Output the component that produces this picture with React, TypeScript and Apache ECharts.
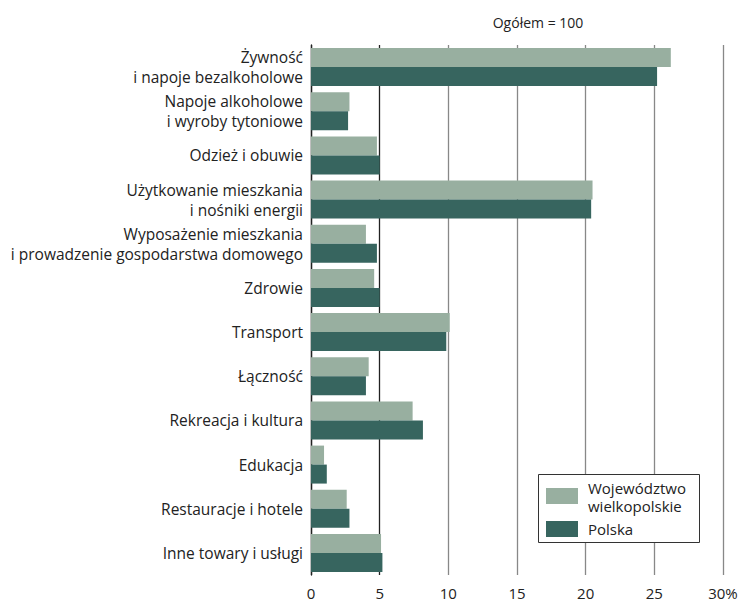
import React, { useEffect, useRef } from "react";
import * as echarts from "echarts";

const categories = [
  "Żywność\ni napoje bezalkoholowe",
  "Napoje alkoholowe\ni wyroby tytoniowe",
  "Odzież i obuwie",
  "Użytkowanie mieszkania\ni nośniki energii",
  "Wyposażenie mieszkania\ni prowadzenie gospodarstwa domowego",
  "Zdrowie",
  "Transport",
  "Łączność",
  "Rekreacja i kultura",
  "Edukacja",
  "Restauracje i hotele",
  "Inne towary i usługi",
];
const wielkopolskie = [26.2, 2.8, 4.8, 20.5, 4.0, 4.6, 10.1, 4.2, 7.4, 0.95, 2.6, 5.1];
const polska = [25.2, 2.7, 5.0, 20.4, 4.8, 5.0, 9.85, 4.0, 8.15, 1.15, 2.8, 5.2];
const seriesNames = ["Województwo wielkopolskie", "Polska"];
const legendLines = [["Województwo", "wielkopolskie"], ["Polska"]];
const titleText = "Ogółem = 100";

const FONT = "Open Sans";
const COLORS = ["#98afa0", "#37655f"];

export default function App() {
  const ref = useRef<HTMLDivElement>(null);
  useEffect(() => {
    const chart = echarts.init(ref.current!, null, { renderer: "svg" });
    const legendTextStyle = { fontFamily: FONT, fontSize: 15, fill: "#222", textVerticalAlign: "middle" };
    chart.setOption({
      animation: false,
      backgroundColor: "#fff",
      textStyle: { fontFamily: FONT },
      title: {
        text: titleText,
        left: 533,
        top: 10,
        textAlign: "center",
        textStyle: { fontFamily: FONT, fontSize: 14, fontWeight: "normal", color: "#222" },
      },
      grid: { left: 311, right: 24, top: 45, bottom: 26, containLabel: false },
      graphic: [
        {
          type: "rect",
          shape: { x: 538.5, y: 474.5, width: 161, height: 68 },
          style: { fill: "#fff", stroke: "#333", lineWidth: 1 },
          z: 10,
        },
        { type: "rect", shape: { x: 546, y: 488, width: 32, height: 16 }, style: { fill: COLORS[0] }, z: 11 },
        { type: "rect", shape: { x: 546, y: 521, width: 32, height: 16 }, style: { fill: COLORS[1] }, z: 11 },
        { type: "text", x: 588, y: 488, style: { ...legendTextStyle, text: legendLines[0][0] }, z: 11 },
        { type: "text", x: 588, y: 506, style: { ...legendTextStyle, text: legendLines[0][1] }, z: 11 },
        { type: "text", x: 588, y: 529, style: { ...legendTextStyle, text: legendLines[1][0] }, z: 11 },
      ],
      xAxis: {
        type: "value",
        min: 0,
        max: 30,
        interval: 5,
        axisLine: { show: false },
        axisTick: { show: false },
        axisLabel: {
          fontFamily: FONT,
          fontSize: 15,
          color: "#222",
          margin: 10,
          formatter: (v: number) => (v === 30 ? "30%" : String(v)),
        },
        splitLine: {
          show: true,
          lineStyle: { color: ["#222", "#222", "#888", "#888", "#888", "#888", "#888"], width: 1.3 },
        },
      },
      yAxis: {
        type: "category",
        inverse: true,
        data: categories,
        axisLine: { show: true, lineStyle: { color: "#222", width: 1.3 } },
        axisTick: { show: false },
        axisLabel: {
          fontFamily: FONT,
          fontSize: 15.5,
          color: "#222",
          margin: 8,
          align: "right",
          lineHeight: 20,
        },
      },
      series: [
        {
          name: seriesNames[0],
          type: "bar",
          data: wielkopolskie,
          barGap: "0%",
          barCategoryGap: "14%",
          itemStyle: { color: COLORS[0] },
        },
        {
          name: seriesNames[1],
          type: "bar",
          data: polska,
          barGap: "0%",
          barCategoryGap: "14%",
          itemStyle: { color: COLORS[1] },
        },
      ],
    });
    return () => chart.dispose();
  }, []);
  return (
    <div
      ref={ref}
      style={{ position: "absolute", left: 0, top: 0, width: 747, height: 601 }}
    />
  );
}
